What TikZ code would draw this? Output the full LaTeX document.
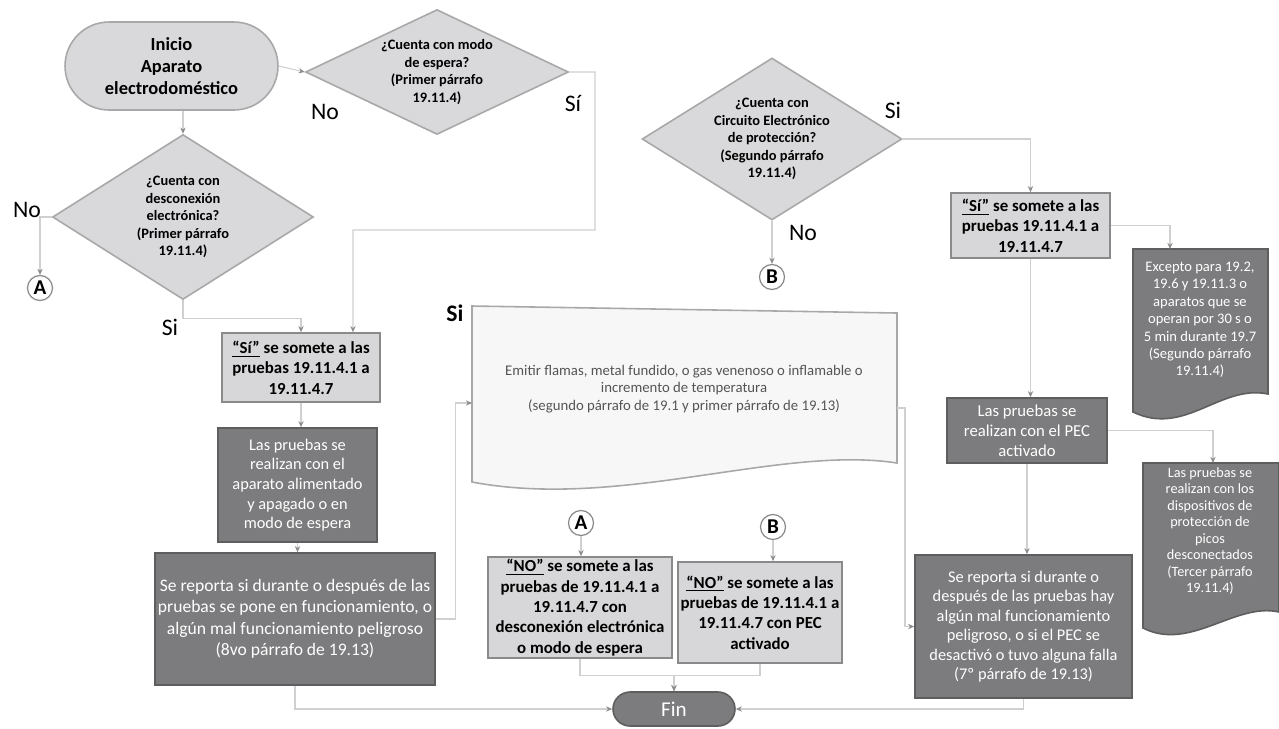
\documentclass[tikz,border=0pt]{standalone}
\usepackage{fontspec}
\setmainfont{Carlito}
\usetikzlibrary{shapes.geometric,arrows.meta}
\definecolor{lightfill}{HTML}{D7D7D9}
\definecolor{lightedge}{HTML}{8A8A8A}
\definecolor{darkfill}{HTML}{7C7C7E}
\definecolor{darkedge}{HTML}{5E5E5E}
\definecolor{diafill}{HTML}{D9D9DB}
\definecolor{diaedge}{HTML}{A8A8A8}
\definecolor{connc}{HTML}{D0D0D0}
\definecolor{tipc}{HTML}{8C8C8C}
\definecolor{doctext}{HTML}{555555}
\tikzset{
  lightbox/.style={rectangle, draw=lightedge, fill=lightfill, line width=0.9pt, align=center, inner sep=1pt, font=\bfseries\fontsize{9.6}{11.6}\selectfont},
  darkbox/.style={rectangle, draw=darkedge, fill=darkfill, line width=0.9pt, align=center, inner sep=1pt, text=white},
  dia/.style={diamond, draw=diaedge, fill=diafill, line width=0.9pt, inner sep=0pt, shape aspect=2},
  diatext/.style={align=center, inner sep=0pt, font=\bfseries\fontsize{8.2}{10}\selectfont},
  conn/.style={draw=connc, line width=0.6pt, -{Stealth[length=3.5pt,width=3pt,color=tipc]}},
  lbl/.style={font=\fontsize{13.5}{15}\selectfont, inner sep=0pt},
  conncircle/.style={circle, draw=lightedge, fill=white, line width=0.7pt, minimum size=0.5cm, inner sep=0pt, font=\fontsize{12}{14}\selectfont\bfseries},
}
\begin{document}
\begin{tikzpicture}[x=0.02cm,y=-0.02cm]
\useasboundingbox[fill=white] (0,0) rectangle (1279,728);

% Inicio
\node[rectangle, rounded corners=0.88cm, draw=diaedge, fill=diafill, line width=0.9pt, minimum width=4.26cm, minimum height=1.76cm, align=center, font=\bfseries\fontsize{10.5}{12.6}\selectfont] (ini) at (171.5,66) {Inicio\\Aparato\\electrodoméstico};

% Diamonds
\node[dia, minimum width=5.26cm, minimum height=2.5cm] (d1) at (437,72) {};
\node[diatext] (d1t) at (d1) {¿Cuenta con modo\\de espera?\\(Primer párrafo\\19.11.4)};
\node[dia, minimum width=5.22cm, minimum height=3.3cm] (d2) at (183,217) {};
\node[diatext] (d2t) at (d2) {¿Cuenta con\\desconexión\\electrónica?\\(Primer párrafo\\19.11.4)};
\node[dia, minimum width=5.2cm, minimum height=3.24cm] (d3) at (772,139) {};
\node[diatext] (d3t) at (d3) {¿Cuenta con\\Circuito Electrónico\\de protección?\\(Segundo párrafo\\19.11.4)};

% Labels
\node[lbl] (l1) at (325,112) {No};
\node[lbl] (l2) at (573,103) {Sí};
\node[lbl] (l3) at (27,210) {No};
\node[lbl] (l4) at (170,327) {Si};
\node[lbl] (l5) at (893,110) {Si};
\node[lbl] (l6) at (803,233) {No};
\node[lbl, font=\bfseries\fontsize{13.5}{15}\selectfont] (l7) at (455,313) {Si};

% Connector circles
\node[conncircle] (ca1) at (40,288) {A};
\node[conncircle] (cb1) at (772,277) {B};
\node[conncircle] (ca2) at (581,523) {A};
\node[conncircle] (cb2) at (773,527) {B};

% Left column
\node[lightbox, minimum width=3.16cm, minimum height=1.38cm] (lsi) at (301,367.5) {\underline{“Sí”} se somete a las\\pruebas 19.11.4.1 a\\19.11.4.7};
\node[darkbox, minimum width=3.18cm, minimum height=2.28cm, font=\fontsize{9.3}{11.2}\selectfont] (apa) at (297.5,485) {Las pruebas se\\realizan con el\\aparato alimentado\\y apagado o en\\modo de espera};
\node[darkbox, minimum width=5.6cm, minimum height=2.64cm, font=\fontsize{10}{12.2}\selectfont] (lrep) at (295,619) {Se reporta si durante o después de las\\pruebas se pone en funcionamiento, o\\algún mal funcionamiento peligroso\\(8vo párrafo de 19.13)};

% Emitir document
\draw[draw=diaedge, fill=white!97!black, line width=0.9pt] (472,306) -- (897,313) -- (897,463) .. controls (780,445) and (620,510) .. (472,482) -- cycle;
\node[align=center, text=doctext, font=\fontsize{8.4}{10}\selectfont] (emit) at (684,389) {Emitir flamas, metal fundido, o gas venenoso o inflamable o\\incremento de temperatura\\(segundo párrafo de 19.1 y primer párrafo de 19.13)};
\coordinate (emw) at (472,403);
\coordinate (eme) at (897,408);

% NO boxes
\node[lightbox, minimum width=3.68cm, minimum height=2.02cm] (noa) at (580,607.5) {\underline{“NO”} se somete a las\\pruebas de 19.11.4.1 a\\19.11.4.7 con\\desconexión electrónica\\o modo de espera};
\node[lightbox, minimum width=3.28cm, minimum height=2.02cm] (nob) at (760,612.5) {\underline{“NO”} se somete a las\\pruebas de 19.11.4.1 a\\19.11.4.7 con PEC\\activado};

% Fin
\node[rectangle, rounded corners=0.34cm, draw=darkedge, fill=darkfill, line width=0.9pt, minimum width=2.44cm, minimum height=0.68cm, text=white, font=\fontsize{12}{14}\selectfont] (fin) at (674,709) {Fin};

% Right column
\node[lightbox, minimum width=3.18cm, minimum height=1.3cm] (rsi) at (1030.5,225.5) {\underline{“Sí”} se somete a las\\pruebas 19.11.4.1 a\\19.11.4.7};
\node[darkbox, minimum width=3.2cm, minimum height=1.3cm, font=\fontsize{9.5}{11.4}\selectfont] (pec) at (1027,430.5) {Las pruebas se\\realizan con el PEC\\activado};
\node[darkbox, minimum width=4.34cm, minimum height=2.86cm, font=\fontsize{9.3}{11.1}\selectfont] (rrep) at (1023.5,626.5) {Se reporta si durante o\\después de las pruebas hay\\algún mal funcionamiento\\peligroso, o si el PEC se\\desactivó o tuvo alguna falla\\(7º párrafo de 19.13)};

% Dark documents
\draw[draw=darkedge, fill=darkfill, line width=0.9pt] (1133,249) -- (1268,249) -- (1268,394) .. controls (1220,384) and (1185,437) .. (1133,412) -- cycle;
\node[align=center, text=white, font=\fontsize{8.3}{9.9}\selectfont] (exc) at (1200,320) {Excepto para 19.2,\\19.6 y 19.11.3 o\\aparatos que se\\operan por 30 s o\\5 min durante 19.7\\(Segundo párrafo\\19.11.4)};
\coordinate (exctop) at (1170,249);
\draw[draw=darkedge, fill=darkfill, line width=0.9pt] (1143,463) -- (1279,463) -- (1279,612) .. controls (1235,602) and (1190,652) .. (1143,628) -- cycle;
\node[align=center, text=white, font=\fontsize{8.1}{9.4}\selectfont] (pic) at (1210,531) {Las pruebas se\\realizan con los\\dispositivos de\\protección de\\picos\\desconectados\\(Tercer párrafo\\19.11.4)};
\coordinate (pictop) at (1213,463);

% Connectors
\draw[conn] (ini.east) -- (d1.west);
\draw[conn] (ini.south -| d2.north) -- (d2.north);
\draw[conn] (d1.east) -- (595,72) -- (595,230) -- (353,230) -- ([xshift=1.04cm]lsi.north);
\draw[conn] (d2.south) -- ++(0,18) -| (lsi.north);
\draw[conn] (d2.west) -| (ca1.north);
\draw[conn] (lsi.south) -- (lsi.south |- apa.north);
\draw[conn] (apa.south) -- (apa.south |- lrep.north);
\draw[conn] (lrep.east) -- ++(20,0) |- (emw);
\draw[conn] (eme) -- ++(8,0) |- (rrep.west);
\draw[conn] (ca2.south) -- (ca2.south |- noa.north);
\draw[conn] (cb2.south) -- (cb2.south |- nob.north);
\draw[conn] (d3.south) -- (cb1.north);
\draw[conn] (d3.east) -| (rsi.north);
\draw[conn] (rsi.east) -| (exctop);
\draw[conn] (rsi.south) -- (rsi.south |- pec.north);
\draw[conn] (pec.east) -| (pictop);
\draw[conn] (pec.south) -- (pec.south |- rrep.north);
\draw[conn] (lrep.south) |- (fin.west);
\draw[conn] (rrep.south) |- (fin.east);
\draw[conn] (noa.south) -- ++(0,17) -| (fin.north);
\draw[conn] (nob.south) -- ++(0,12) -| (fin.north);
\end{tikzpicture}
\end{document}
